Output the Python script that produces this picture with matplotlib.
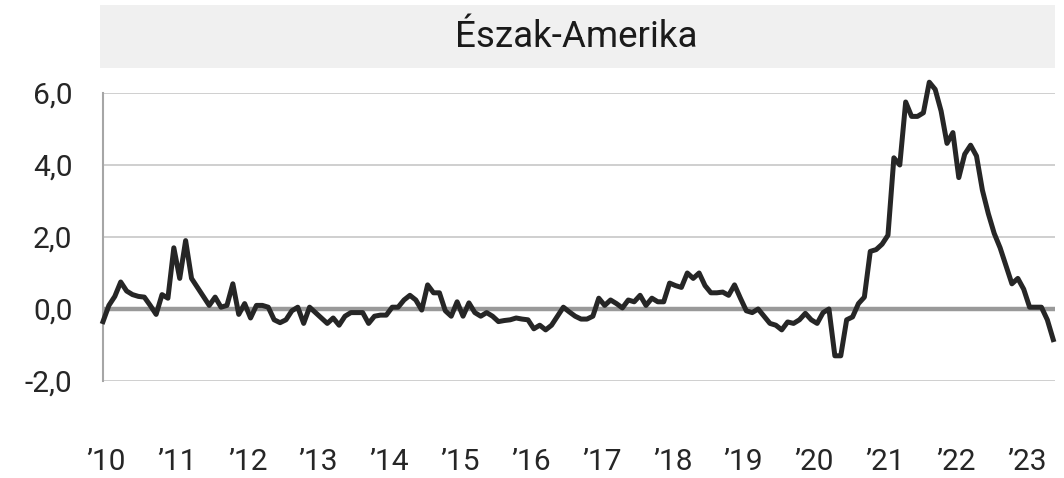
import matplotlib
matplotlib.use('Agg')
import matplotlib.pyplot as plt
from matplotlib.patches import Rectangle

plt.rcParams['font.family'] = ['Roboto', 'DejaVu Sans']

# monthly values, Jan 2010 - Jun 2023
vals_2010 = [-0.35, 0.1, 0.35, 0.75, 0.5, 0.4, 0.35, 0.33, 0.1, -0.15, 0.4, 0.3]
vals_2011 = [1.7, 0.85, 1.9, 0.85, 0.6, 0.35, 0.1, 0.33, 0.05, 0.1, 0.7, -0.15]
vals_2012 = [0.15, -0.25, 0.1, 0.1, 0.05, -0.3, -0.38, -0.3, -0.05, 0.05, -0.4, 0.05]
vals_2013 = [-0.1, -0.25, -0.4, -0.25, -0.45, -0.2, -0.1, -0.1, -0.1, -0.4, -0.2, -0.17]
vals_2014 = [-0.17, 0.05, 0.05, 0.25, 0.38, 0.25, -0.03, 0.67, 0.45, 0.45, -0.05, -0.2]
vals_2015 = [0.2, -0.2, 0.17, -0.1, -0.2, -0.1, -0.2, -0.35, -0.32, -0.3, -0.25, -0.28]
vals_2016 = [-0.3, -0.55, -0.45, -0.58, -0.45, -0.2, 0.05, -0.08, -0.2, -0.28, -0.28, -0.2]
vals_2017 = [0.3, 0.1, 0.25, 0.15, 0.03, 0.25, 0.2, 0.38, 0.1, 0.3, 0.2, 0.2]
vals_2018 = [0.72, 0.65, 0.6, 1.0, 0.85, 1.0, 0.65, 0.45, 0.45, 0.47, 0.38, 0.67]
vals_2019 = [0.3, -0.05, -0.1, 0.0, -0.2, -0.4, -0.45, -0.58, -0.36, -0.4, -0.3, -0.12]
vals_2020 = [-0.3, -0.4, -0.1, 0.0, -1.3, -1.3, -0.3, -0.22, 0.15, 0.33, 1.6, 1.65]
vals_2021 = [1.8, 2.05, 4.2, 4.0, 5.75, 5.35, 5.35, 5.45, 6.3, 6.1, 5.5, 4.6]
vals_2022 = [4.9, 3.65, 4.3, 4.55, 4.25, 3.3, 2.65, 2.1, 1.7, 1.2, 0.7, 0.85]
vals_2023 = [0.55, 0.05, 0.05, 0.05, -0.3, -0.85]

values = (vals_2010 + vals_2011 + vals_2012 + vals_2013 + vals_2014 + vals_2015 +
          vals_2016 + vals_2017 + vals_2018 + vals_2019 + vals_2020 + vals_2021 +
          vals_2022 + vals_2023)

year_labels = ["\u201910", "\u201911", "\u201912", "\u201913", "\u201914", "\u201915", "\u201916",
               "\u201917", "\u201918", "\u201919", "\u201920", "\u201921", "\u201922", "\u201923"]
y_ticks = [-2, 0, 2, 4, 6]
y_labels = ["-2,0", "0,0", "2,0", "4,0", "6,0"]
title = "Észak-Amerika"

W, H = 1064, 478
fig = plt.figure(figsize=(W / 100, H / 100), dpi=100)

# title banner
fig.patches.append(Rectangle((100 / W, 1 - 68 / H), 955 / W, 63 / H,
                             transform=fig.transFigure, facecolor='#f0f0f0',
                             edgecolor='none', zorder=0))
fig.text(576 / W, 1 - 37 / H, title, ha='center', va='center',
         fontsize=26.5, color='#1a1a1a')

ax = fig.add_axes([103 / W, 1 - 381 / H, (1055 - 103) / W, (381 - 93) / H])

x = list(range(len(values)))
for yt in y_ticks:
    if yt == 0:
        ax.axhline(yt, color='#999999', lw=3.2, zorder=1)
    else:
        ax.axhline(yt, color='#cccccc', lw=1.3, zorder=1)

ax.plot(x, values, color='#262626', lw=3.6, solid_joinstyle='round', zorder=3, clip_on=False)

ax.set_xlim(0, 161.3)
ax.set_ylim(-2, 6)
ax.set_yticks(y_ticks)
ax.set_yticklabels(y_labels)
ax.set_xticks([12 * k + 0.5 for k in range(len(year_labels))])
ax.set_xticklabels(year_labels)
ax.tick_params(axis='y', length=0, pad=22, labelsize=21.5, labelcolor='#262626')
ax.tick_params(axis='x', length=0, pad=48, labelsize=21.5, labelcolor='#262626')

for s in ['top', 'right', 'bottom']:
    ax.spines[s].set_visible(False)
ax.spines['left'].set_color('#a6a6a6')
ax.spines['left'].set_linewidth(1.5)

fig.savefig('out.png', dpi=100)
